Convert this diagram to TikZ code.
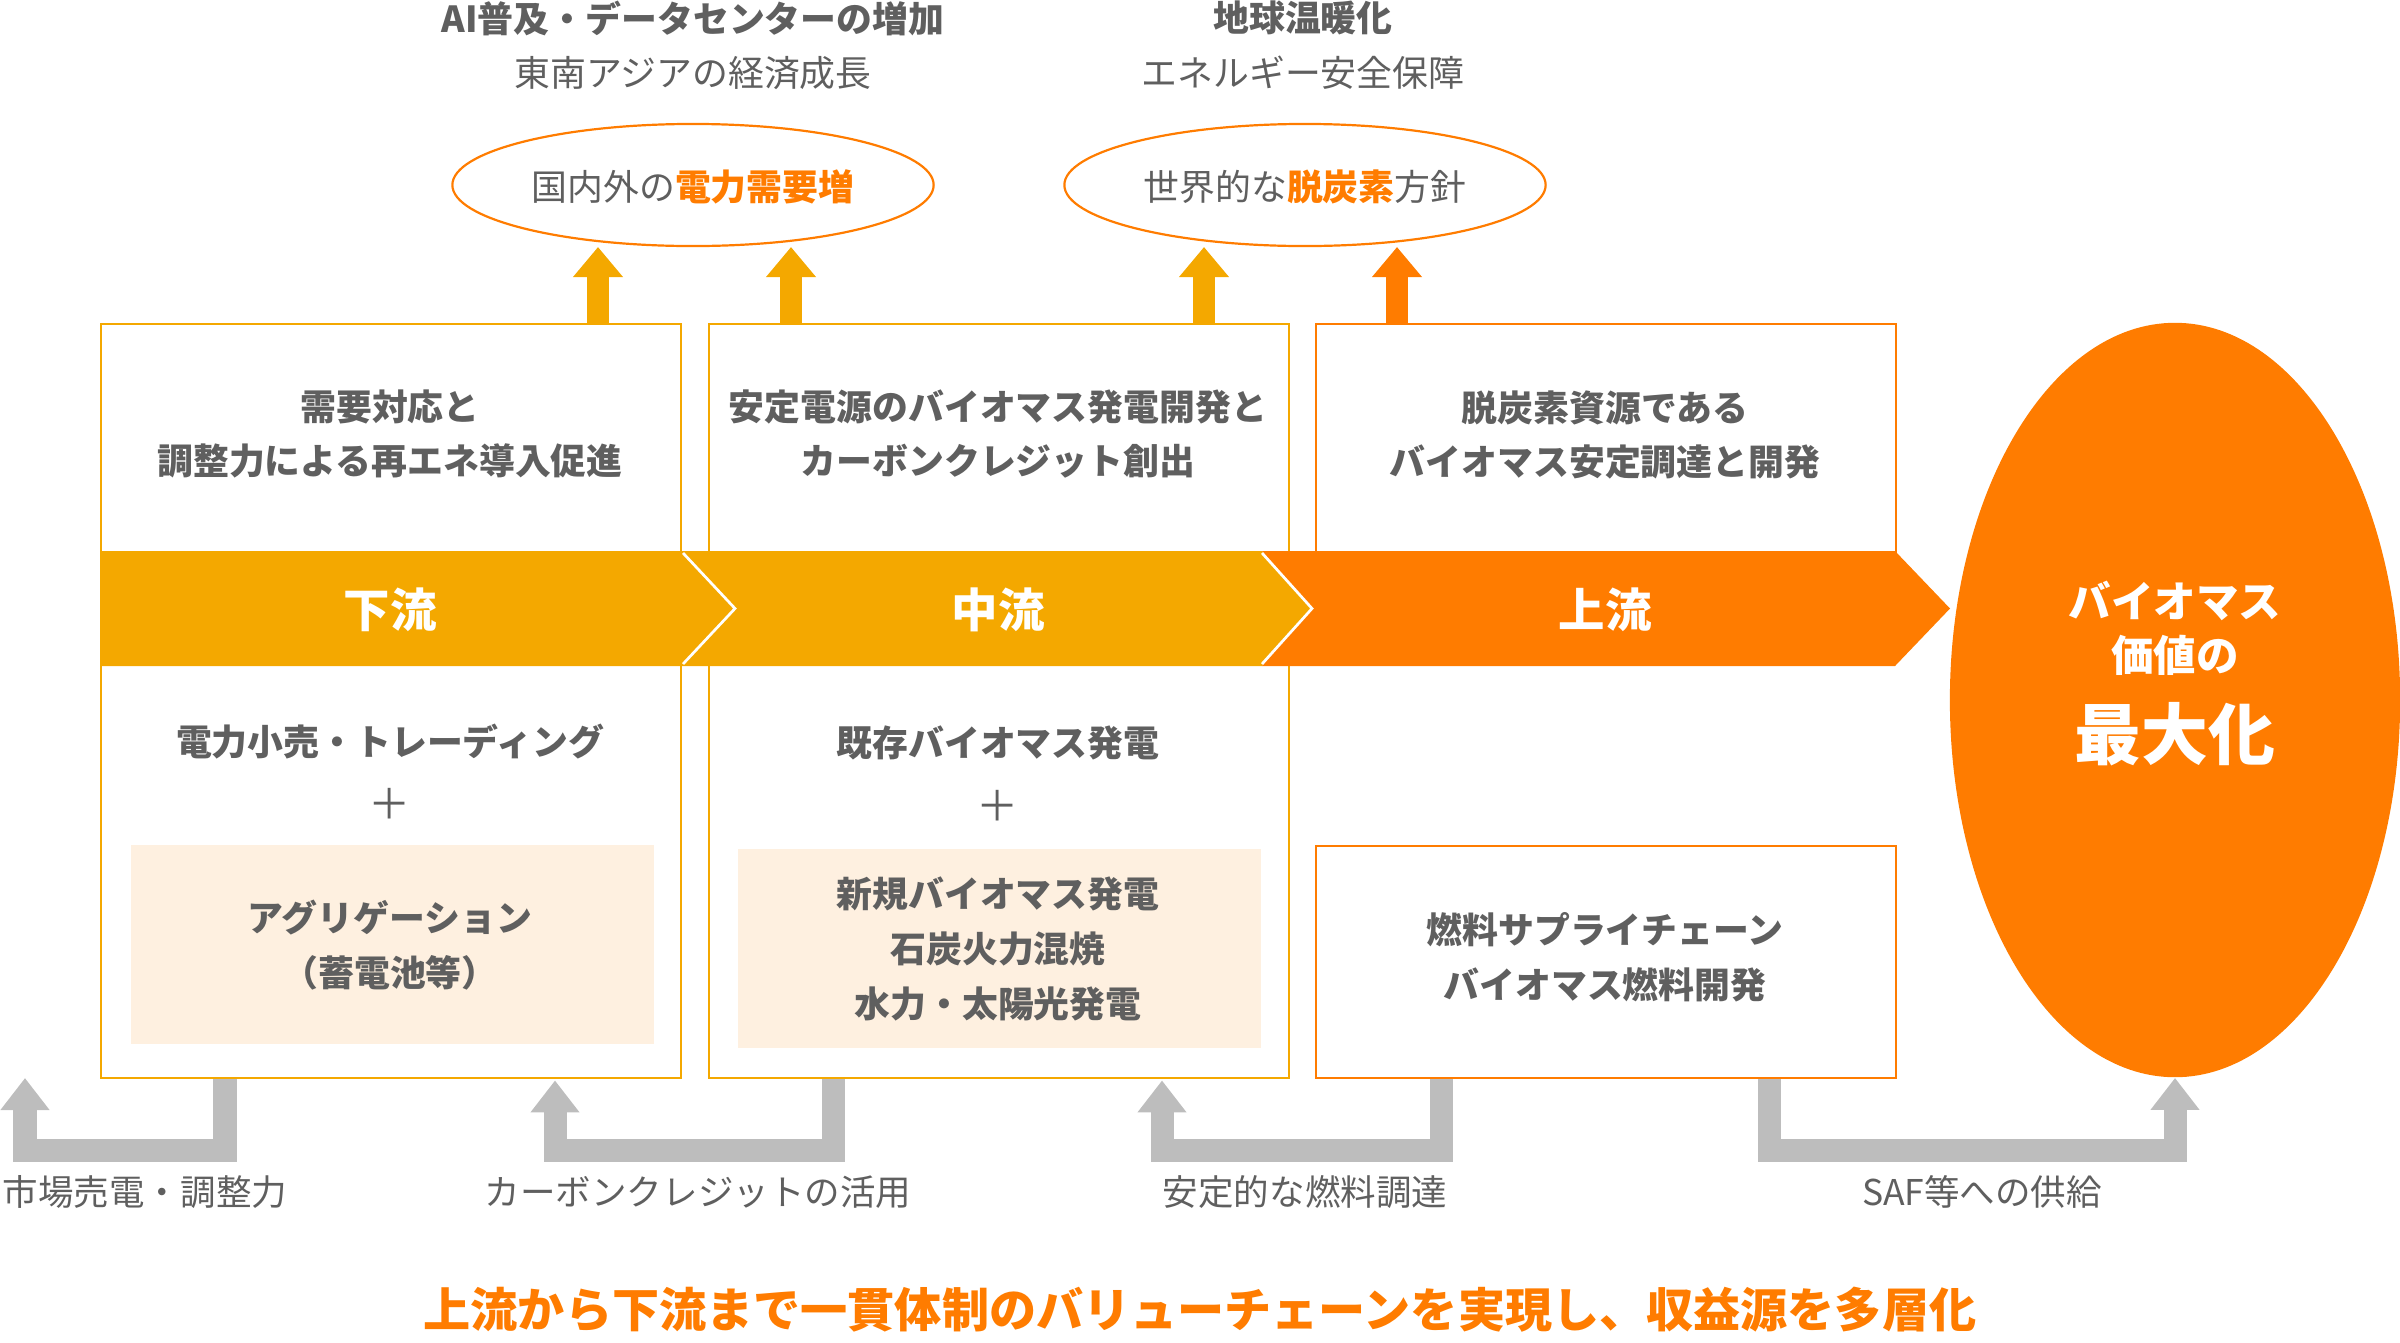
\documentclass[tikz,border=0pt]{standalone}
\usepackage{fontspec}
\setmainfont{Noto Sans CJK JP}
\usetikzlibrary{arrows.meta,shapes.geometric,calc}
\definecolor{cyel}{HTML}{F4A800}
\definecolor{corg}{HTML}{FF7C00}
\definecolor{cgray}{HTML}{BDBDBD}
\definecolor{ctext}{HTML}{5F5F5F}
\definecolor{cpale}{HTML}{FEF0E0}
\begin{document}
\begin{tikzpicture}[x=0.01cm,y=-0.01cm,
  txt/.style={text=ctext, font=\fontsize{10.2}{15.6}\selectfont, align=center, inner sep=0pt},
  btxt/.style={text=ctext, font=\fontsize{10.2}{15.6}\selectfont\bfseries, align=center, inner sep=0pt},
  lbl/.style={text=ctext, font=\fontsize{10.1}{14}\selectfont, inner sep=0pt},
  bantxt/.style={text=white, font=\fontsize{13.2}{16}\selectfont\bfseries, inner sep=0pt},
  ybox/.style={draw=cyel, line width=0.02cm, inner sep=0pt, anchor=north west},
  obox/.style={draw=corg, line width=0.02cm, inner sep=0pt, anchor=north west},
  palebox/.style={fill=cpale, inner sep=0pt, anchor=north west, minimum width=5.23cm, minimum height=1.99cm},
  oval/.style={ellipse, draw=corg, line width=0.022cm, inner sep=0pt, minimum width=4.81cm, minimum height=1.22cm},
  yarr/.style={draw=cyel, line width=0.22cm, -{Triangle[width=0.48cm,length=0.30cm]}},
  oarr/.style={draw=corg, line width=0.22cm, -{Triangle[width=0.48cm,length=0.30cm]}},
  garr/.style={draw=cgray, line width=0.23cm, line join=miter, -{Triangle[width=0.47cm,length=0.32cm]}},
  hl/.style={}
]
\useasboundingbox (0,0) rectangle (2400,1342);

% boxes
\node[ybox, minimum width=5.8cm, minimum height=7.54cm] (b1) at (100,323) {};
\node[ybox, minimum width=5.8cm, minimum height=7.54cm] (b2) at (708,323) {};
\node[obox, minimum width=5.8cm, minimum height=2.28cm] (b3u) at (1315,323) {};
\node[obox, minimum width=5.8cm, minimum height=2.32cm] (b3l) at (1315,845) {};

\node[palebox] (p1) at (130,844) {};
\node[palebox] (p2) at (737,848) {};

% banner
\fill[cyel] (100,551) -- (1262,551) -- (1312,608.5) -- (1262,666) -- (100,666) -- cycle;
\fill[corg] (1262,551) -- (1895,551) -- (1950,608.5) -- (1895,666) -- (1262,666) -- (1312,608.5) -- cycle;
\draw[white, line width=0.027cm] (683,553) -- (735,608.5) -- (683,664);
\draw[white, line width=0.027cm] (1262,553) -- (1312,608.5) -- (1262,664);
\node[bantxt] (s1) at (390,610) {下流};
\node[bantxt] (s2) at (998,610) {中流};
\node[bantxt] (s3) at (1605,610) {上流};

% box texts
\node[btxt] (t1u) at (390,434) {需要対応と\\調整力による再エネ導入促進};
\node[btxt] (t2u) at (998,434) {安定電源のバイオマス発電開発と\\カーボンクレジット創出};
\node[btxt] (t3u) at (1605,435) {脱炭素資源である\\バイオマス安定調達と開発};

\node[btxt] (t1l) at (390,742) {電力小売・トレーディング};
\node[txt, font=\fontsize{12}{14}\selectfont] (plus1) at (390,804) {＋};
\node[btxt] (t1p) at (390,945) {アグリゲーション\\（蓄電池等）};

\node[btxt] (t2l) at (998,743) {既存バイオマス発電};
\node[txt, font=\fontsize{12}{14}\selectfont] (plus2) at (998,806) {＋};
\node[btxt] (t2p) at (998,949) {新規バイオマス発電\\石炭火力混焼\\水力・太陽光発電};

\node[btxt] (t3l) at (1605,957) {燃料サプライチェーン\\バイオマス燃料開発};

% top drivers
\node[btxt] (d1a) at (693,18) {AI普及・データセンターの増加};
\node[txt] (d1b) at (693,73) {東南アジアの経済成長};
\node[btxt] (d2a) at (1303,18) {地球温暖化};
\node[txt] (d2b) at (1303,73) {エネルギー安全保障};

\node[oval] (e1) at (693,185) {};
\node[txt] (e1t) at (693,187) {国内外の{\bfseries\color{corg}電力需要増}};
\node[oval] (e2) at (1305,185) {};
\node[txt] (e2t) at (1305,187) {世界的な{\bfseries\color{corg}脱炭素}方針};

% up arrows to ovals
\draw[yarr] ($(b1.north west)+(498,0)$) -- ++(0,-76);
\draw[yarr] ($(b2.north west)+(83,0)$) -- ++(0,-76);
\draw[yarr] ($(b2.north west)+(496,0)$) -- ++(0,-76);
\draw[oarr] ($(b3u.north west)+(82,0)$) -- ++(0,-76);

% big ellipse
\node[ellipse, fill=corg, inner sep=0pt, minimum width=4.5cm, minimum height=7.54cm] (be) at (2175,700) {};
\node[bantxt, font=\fontsize{12.1}{15}\selectfont\bfseries] (bet1) at (2175,601) {バイオマス};
\node[bantxt, font=\fontsize{12.1}{15}\selectfont\bfseries] (bet2) at (2175,655) {価値の};
\node[bantxt, font=\fontsize{19}{22}\selectfont\bfseries] (bet3) at (2175,734) {最大化};

% bottom gray connectors
\coordinate (f1) at (25,1078);
\draw[garr] ($(b1.south west)+(125,0)$) -- ++(0,71.5) -| (f1);
\draw[garr] ($(b2.south west)+(125,0)$) -- ++(0,71.5) -| ($(b1.south west)+(455,1)$);
\draw[garr] ($(b3l.south west)+(126,0)$) -- ++(0,71.5) -| ($(b2.south west)+(454,1)$);
\draw[garr] ($(b3l.south west)+(454,0)$) -- ++(0,71.5) -| (be.south);

\node[lbl] (c1) at (145,1192) {市場売電・調整力};
\node[lbl] (c2) at (698,1192) {カーボンクレジットの活用};
\node[lbl] (c3) at (1305,1192) {安定的な燃料調達};
\node[lbl] (c4) at (1982,1192) {SAF等への供給};

\node[text=corg, font=\fontsize{13.4}{16}\selectfont\bfseries, inner sep=0pt] (summary) at (1200,1310) {上流から下流まで一貫体制のバリューチェーンを実現し、収益源を多層化};
\end{tikzpicture}
\end{document}
